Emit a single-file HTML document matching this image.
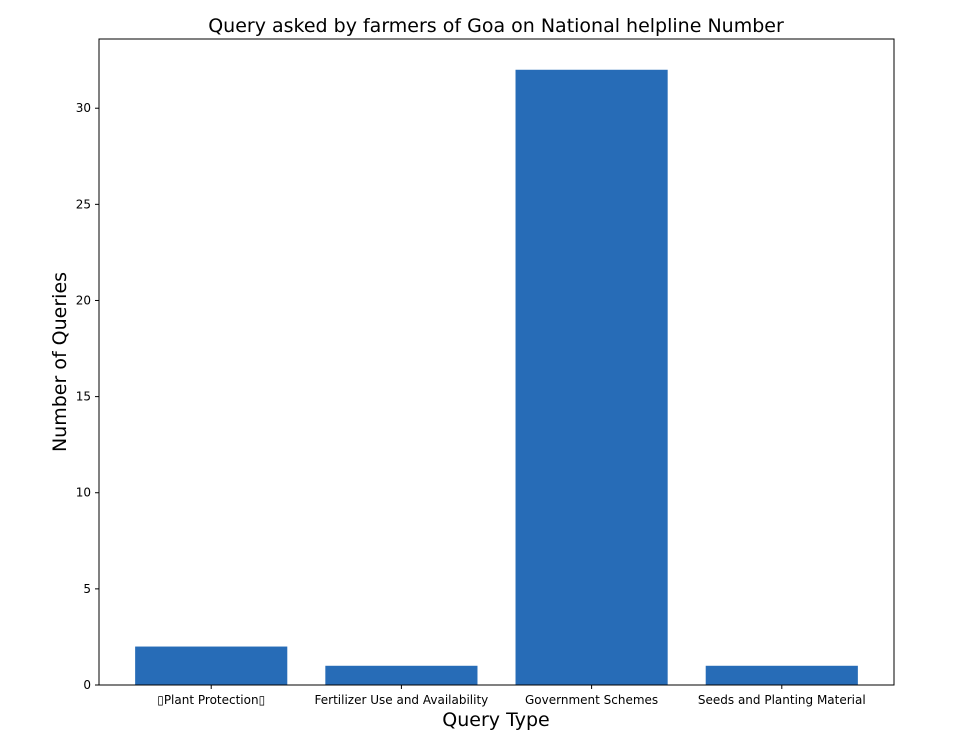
<!DOCTYPE html>
<html><head><meta charset="utf-8"><style>body{margin:0;background:#fff}svg{display:block;font-family:"DejaVu Sans","Liberation Sans",sans-serif}</style></head>
<body>
<svg id="chart" width="957" height="740" xmlns="http://www.w3.org/2000/svg">
<text x="496" y="32" text-anchor="middle" font-size="19" fill="#000">Query asked by farmers of Goa on National helpline Number</text>
<text x="496" y="726" text-anchor="middle" font-size="19" fill="#000">Query Type</text>
<text transform="translate(66,362) rotate(-90)" text-anchor="middle" font-size="19" fill="#000">Number of Queries</text>
<g id="bars"></g><g id="yticks"></g><g id="xticks"></g>
<rect x="99" y="39" width="795" height="646" fill="none" stroke="#000" stroke-width="1"/>
</svg>
<script>
const categories=["\u25AFPlant Protection\u25AF","Fertilizer Use and Availability","Government Schemes","Seeds and Planting Material"];
const values=[2,1,32,1];
const yTicks=[0,5,10,15,20,25,30];
const L=99,R=894,T=39,B=685;
const xmin=-0.59,xmax=3.59,ymin=0,ymax=33.6;
const sx=v=>L+(v-xmin)/(xmax-xmin)*(R-L);
const sy=v=>B-(v-ymin)/(ymax-ymin)*(B-T);
const NS="http://www.w3.org/2000/svg";
const bars=document.getElementById('bars'),yt=document.getElementById('yticks'),xt=document.getElementById('xticks');
values.forEach((v,i)=>{
const r=document.createElementNS(NS,'rect');
r.setAttribute('x',sx(i-0.4));r.setAttribute('width',sx(i+0.4)-sx(i-0.4));
r.setAttribute('y',sy(v));r.setAttribute('height',sy(0)-sy(v));r.setAttribute('fill','#276cb7');


bars.appendChild(r);
const l=document.createElementNS(NS,'line');
l.setAttribute('x1',sx(i));l.setAttribute('x2',sx(i));l.setAttribute('y1',B);l.setAttribute('y2',B+4);l.setAttribute('stroke','#000');


xt.appendChild(l);
const t=document.createElementNS(NS,'text');
t.setAttribute('x',sx(i));t.setAttribute('y',B+19);t.setAttribute('text-anchor','middle');t.setAttribute('font-size','12');
t.textContent=categories[i];


xt.appendChild(t);
});
yTicks.forEach(v=>{
const l=document.createElementNS(NS,'line');
l.setAttribute('x1',L-4);l.setAttribute('x2',L);l.setAttribute('y1',sy(v));l.setAttribute('y2',sy(v));l.setAttribute('stroke','#000');


yt.appendChild(l);
const t=document.createElementNS(NS,'text');
t.setAttribute('x',L-8);t.setAttribute('y',sy(v)+4);t.setAttribute('text-anchor','end');t.setAttribute('font-size','12');
t.textContent=v;


yt.appendChild(t);
});
</script>
</body></html>
